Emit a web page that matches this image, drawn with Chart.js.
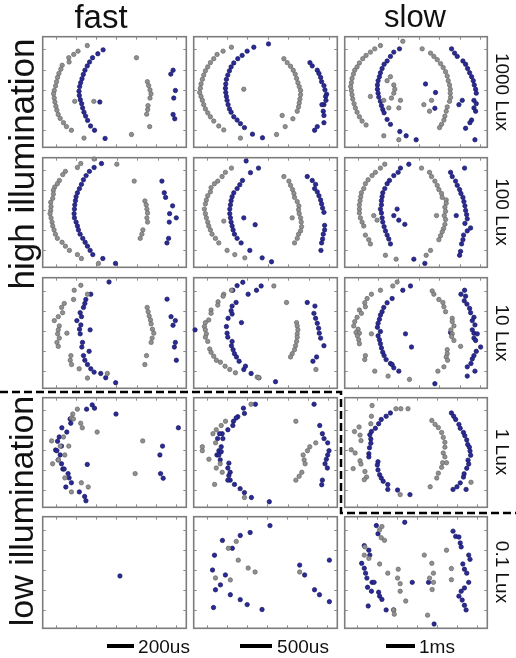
<!DOCTYPE html>
<html>
<head>
<meta charset="utf-8">
<script src="https://cdn.jsdelivr.net/npm/chart.js@4.4.0/dist/chart.umd.min.js"></script>
<style>
  body { margin: 0; background: #fff; }
  #fig { position: relative; width: 516px; height: 658px; overflow: hidden; background: #fff;
         font-family: 'Liberation Sans', Arial, sans-serif; color: #111; }
  .panel { position: absolute; }
  .lbl { position: absolute; white-space: nowrap; line-height: 1; transform: translate(-50%, -50%); }
  .up { transform: translate(-50%, -50%) rotate(-90deg); }
  .down { transform: translate(-50%, -50%) rotate(90deg); }
  .bar { position: absolute; background: #000; }
  #dash { position: absolute; left: 0; top: 0; }
</style>
</head>
<body>
<div id="fig">
  <canvas id="dash" width="516" height="658"></canvas>
</div>
<script>
// Texte der Abbildung
const rowLabels = ['1000 Lux', '100 Lux', '10 Lux', '1 Lux', '0.1 Lux'];
const columnTitles = ['fast', '', 'slow'];
const groupLabels = ['high illumination', 'low illumination'];
const scaleBarLabels = ['200us', '500us', '1ms'];

// Punkte je Feld, abgelesen in Bildpunkten der Ausschnitte: [x, y]
// Achsenbereiche je Feld: [xMin, xMax, yMin, yMax]

// 1000 Lux
const grey1000Fast = [[138,45],[110,62],[97,72],[82,82],[83,95],[62,105],[58,117],[52,130],[48,142],[45,155],[42,168],[38,182],[36,192],[38,205],[40,217],[43,230],[46,242],[50,255],[56,267],[66,280],[75,292],[90,303],[100,215],[158,215],[128,327],[287,82],[272,316],[320,155],[324,167],[328,180],[331,192],[328,205],[322,228],[321,240],[318,254],[327,292]];
const blue1000Fast = [[186,58],[170,70],[154,82],[145,95],[138,107],[131,120],[126,133],[122,146],[118,158],[115,170],[113,184],[114,197],[117,210],[121,222],[124,235],[128,248],[133,260],[139,273],[148,290],[160,303],[192,328],[176,217],[398,120],[391,132],[405,182],[400,205],[398,255],[403,268]];
const range1000Fast = [3, 438, 18, 355];

const grey1000Mid = [[123,50],[98,62],[80,72],[70,85],[60,97],[52,110],[45,122],[40,135],[36,148],[32,162],[30,175],[28,188],[32,200],[36,212],[40,225],[45,238],[52,250],[60,262],[70,275],[85,290],[100,302],[160,178],[150,327],[258,316],[284,292],[275,258],[307,268],[280,85],[290,97],[300,108],[308,120],[314,132],[318,145],[322,158],[326,170],[330,182],[330,195],[328,208],[326,220],[324,232],[320,245]];
const blue1000Mid = [[234,40],[190,50],[170,62],[155,75],[142,85],[130,98],[122,110],[117,122],[112,135],[108,148],[106,162],[105,175],[106,188],[108,200],[110,212],[113,225],[117,238],[122,248],[130,262],[140,272],[150,283],[162,295],[186,315],[216,326],[358,97],[365,107],[380,120],[385,130],[390,142],[393,155],[400,167],[403,180],[408,193],[405,200],[406,212],[400,225],[394,225],[398,245],[400,258],[400,280],[380,292],[372,303]];
const range1000Mid = [10, 440, 18, 355];

const grey1000Slow = [[192,32],[125,45],[108,55],[95,65],[82,75],[72,85],[62,98],[55,110],[48,120],[44,132],[40,145],[38,158],[36,170],[38,182],[40,195],[42,208],[46,222],[50,235],[55,248],[62,262],[70,275],[82,287],[155,140],[145,152],[165,165],[168,178],[165,190],[158,205],[95,200],[135,212],[185,212],[150,235],[180,235],[135,320],[180,332],[255,225],[278,212],[272,245],[250,55],[275,68],[285,78],[295,88],[305,100],[313,112],[320,125],[325,138],[328,152],[332,165],[334,178],[334,190],[335,203],[332,215],[325,232],[322,245],[318,260],[315,272],[308,285],[302,295]];
const blue1000Slow = [[182,55],[165,65],[155,78],[145,92],[136,102],[130,115],[125,128],[122,140],[118,152],[116,165],[116,178],[118,190],[120,202],[125,215],[128,228],[132,240],[136,250],[145,270],[155,285],[183,307],[202,320],[232,332],[260,162],[290,188],[288,236],[338,55],[347,68],[355,78],[372,92],[380,102],[386,115],[392,128],[398,140],[403,152],[406,165],[410,178],[412,190],[405,212],[412,222],[370,212],[360,225],[405,235],[410,245],[398,272],[393,280],[380,297],[408,332]];
const range1000Slow = [18, 445, 18, 355];

// 100 Lux
const grey100Fast = [[162,24],[122,38],[112,50],[76,62],[68,72],[58,90],[52,100],[44,110],[40,120],[40,132],[38,145],[32,157],[33,170],[32,182],[30,192],[33,205],[36,218],[38,230],[42,242],[46,255],[52,268],[66,280],[76,292],[88,305],[112,318],[124,330],[175,345],[230,40],[282,92],[314,153],[318,165],[320,178],[322,190],[320,205],[322,218],[308,242],[305,255],[300,268]];
const blue100Fast = [[184,38],[162,50],[148,62],[138,75],[130,88],[124,102],[118,115],[112,128],[108,140],[106,152],[104,165],[103,178],[102,192],[103,205],[108,218],[112,230],[115,242],[120,255],[128,268],[135,280],[142,292],[150,305],[158,318],[188,330],[226,345],[365,92],[372,128],[376,142],[397,168],[388,192],[408,205],[387,218],[385,268],[380,282]];
const range100Fast = [8, 438, 20, 357];

const grey100Mid = [[123,52],[105,65],[95,78],[82,92],[72,100],[62,112],[60,125],[52,137],[48,150],[45,162],[42,178],[45,192],[48,205],[52,218],[55,230],[60,242],[65,255],[75,268],[85,282],[100,215],[110,305],[133,318],[163,328],[280,78],[295,92],[300,105],[306,118],[310,130],[312,142],[320,155],[325,168],[324,180],[326,192],[330,205],[332,218],[333,232],[330,245],[324,255],[320,268],[312,282],[305,205]];
const blue100Mid = [[167,30],[180,66],[204,52],[156,90],[148,103],[140,115],[130,128],[125,140],[122,152],[120,165],[118,178],[118,192],[120,205],[122,218],[125,230],[128,242],[132,255],[140,268],[152,282],[178,305],[160,205],[194,226],[215,328],[243,340],[350,78],[365,90],[375,102],[372,115],[380,125],[385,137],[390,150],[393,162],[396,175],[400,188],[402,228],[402,242],[398,255],[396,270],[393,282],[391,305]];
const range100Mid = [10, 440, 20, 357];

const grey100Slow = [[138,40],[125,52],[110,65],[100,75],[88,88],[80,100],[75,115],[68,128],[66,140],[64,152],[62,165],[62,178],[62,190],[65,205],[70,218],[75,230],[80,258],[90,272],[95,285],[105,198],[115,212],[140,320],[172,332],[248,52],[272,65],[278,78],[288,92],[295,105],[300,118],[308,130],[310,142],[322,150],[322,160],[318,172],[320,185],[316,198],[320,210],[318,225],[314,238],[310,248],[305,260],[300,272],[293,198],[275,305],[262,320]];
const blue100Slow = [[210,40],[185,52],[178,65],[165,75],[152,90],[145,100],[138,115],[132,128],[130,140],[128,152],[128,165],[125,178],[128,190],[130,205],[132,218],[136,232],[140,245],[145,258],[150,270],[155,285],[175,178],[165,198],[180,212],[198,225],[225,332],[258,345],[377,52],[335,65],[340,78],[350,92],[355,105],[362,118],[366,130],[372,142],[375,155],[378,168],[380,182],[383,195],[385,208],[378,222],[395,236],[385,245],[374,258],[372,272],[368,285],[365,308],[362,320],[352,198]];
const range100Slow = [18, 445, 20, 357];

// 10 Lux
const grey10Fast = [[120,45],[100,60],[140,72],[98,88],[70,100],[62,112],[65,128],[52,140],[40,152],[55,168],[52,180],[50,192],[78,190],[55,205],[48,218],[52,230],[90,258],[88,272],[92,285],[115,298],[140,326],[200,312],[320,112],[323,125],[326,138],[330,150],[332,162],[336,178],[340,190],[335,205],[332,218],[318,258],[313,285]];
const blue10Fast = [[205,35],[150,72],[135,88],[132,100],[128,112],[118,128],[122,140],[108,152],[120,165],[116,178],[118,192],[148,180],[125,218],[123,232],[128,258],[145,245],[132,272],[140,285],[150,298],[160,308],[180,312],[195,325],[225,340],[380,87],[392,140],[405,152],[398,166],[405,218],[402,232],[408,272]];
const range10Fast = [5, 438, 22, 357];

const grey10Mid = [[123,60],[100,72],[98,78],[83,95],[82,105],[62,120],[62,130],[55,150],[45,158],[42,170],[45,180],[48,192],[45,202],[52,215],[58,238],[62,248],[70,260],[78,272],[90,278],[104,290],[118,300],[135,310],[200,323],[205,325],[250,47],[288,97],[318,158],[320,168],[322,180],[320,192],[320,202],[318,215],[315,228],[312,240],[305,252],[300,262],[376,300]];
const blue10Mid = [[157,36],[140,46],[127,60],[212,47],[198,60],[173,72],[137,97],[125,108],[122,122],[125,132],[113,145],[153,158],[108,170],[110,190],[112,202],[125,215],[123,228],[128,240],[132,252],[138,262],[146,275],[160,300],[165,290],[182,312],[205,325],[255,337],[14,180],[350,97],[373,108],[370,130],[375,145],[380,160],[384,175],[386,190],[390,205],[400,228],[378,262],[367,275]];
const range10Mid = [10, 440, 22, 357];

const grey10Slow = [[175,35],[162,47],[125,60],[98,72],[85,85],[78,98],[80,110],[62,120],[68,130],[55,142],[48,155],[45,168],[58,178],[52,188],[62,190],[56,198],[60,210],[62,222],[98,192],[80,258],[78,270],[108,305],[148,320],[212,330],[280,62],[285,72],[300,88],[312,97],[315,110],[320,125],[340,145],[340,155],[345,168],[336,180],[340,192],[338,200],[345,212],[365,230],[325,240],[325,252],[322,262],[326,272],[315,292],[297,305]];
const blue10Slow = [[215,47],[192,60],[160,85],[145,98],[135,112],[130,125],[125,135],[122,148],[118,160],[116,172],[125,185],[118,198],[122,210],[125,222],[128,235],[132,248],[136,258],[142,270],[155,282],[160,285],[165,295],[180,305],[200,192],[218,232],[288,343],[377,60],[366,72],[380,78],[376,92],[384,102],[392,115],[395,128],[405,142],[400,152],[408,165],[400,180],[405,190],[415,192],[405,205],[410,212],[425,232],[412,245],[405,258],[400,268],[396,282],[385,292],[408,305],[385,320],[335,188]];
const range10Slow = [18, 445, 22, 357];

// 1 Lux
const grey1Fast = [[110,55],[96,70],[92,82],[98,85],[120,98],[125,112],[170,125],[68,140],[32,152],[84,168],[58,168],[72,195],[52,210],[35,222],[72,265],[122,280],[92,308],[143,293],[308,152],[285,252]];
const blue1Fast = [[155,42],[138,55],[162,52],[88,85],[90,98],[63,112],[78,125],[55,140],[50,153],[62,168],[44,180],[48,182],[58,195],[52,210],[62,222],[66,238],[70,238],[82,252],[85,265],[92,280],[75,293],[116,308],[132,322],[136,335],[140,224],[227,70],[416,112],[368,168],[360,195],[362,252],[370,266]];
const range1Fast = [5, 440, 20, 355];

const grey1Mid = [[185,40],[108,92],[95,105],[80,118],[70,130],[78,158],[38,170],[38,182],[58,208],[92,222],[80,235],[98,248],[75,285],[165,325],[320,92],[380,158],[362,170],[355,182],[342,195],[345,210],[348,222],[338,248],[330,260],[320,272]];
const blue1Mid = [[198,40],[162,52],[165,68],[145,78],[140,82],[132,92],[130,105],[115,118],[98,130],[90,130],[84,145],[100,145],[95,170],[88,182],[95,185],[82,195],[88,195],[92,210],[118,220],[115,235],[122,248],[118,258],[122,272],[115,272],[135,285],[152,298],[165,310],[186,325],[240,338],[375,40],[392,105],[400,130],[405,145],[416,158],[420,182],[416,195],[412,208],[408,222],[415,235],[400,272],[398,286]];
const range1Mid = [12, 445, 20, 355];

const grey1Slow = [[102,42],[100,75],[98,98],[62,108],[48,122],[65,133],[68,150],[38,178],[50,188],[65,212],[68,222],[44,236],[80,245],[85,262],[78,270],[175,52],[190,52],[212,52],[285,88],[295,100],[305,110],[315,125],[320,140],[325,155],[325,170],[320,188],[325,200],[318,218],[330,218],[315,232],[305,250],[300,265],[280,292],[188,316],[405,278]];
const blue1Slow = [[158,65],[145,75],[130,85],[122,98],[112,112],[100,122],[95,132],[98,145],[98,158],[94,172],[92,190],[92,200],[120,215],[118,225],[120,240],[125,255],[130,265],[136,275],[150,285],[150,300],[180,302],[218,316],[345,65],[352,75],[358,85],[368,100],[372,112],[382,125],[386,135],[392,148],[395,162],[400,170],[402,182],[404,195],[396,210],[398,222],[392,235],[384,252],[382,262],[372,280],[362,292],[350,300],[390,300]];
const range1Slow = [18, 455, 18, 355];

// 0.1 Lux
const grey01Fast = [];
const blue01Fast = [[240,198]];
const range01Fast = [6, 441, 18, 357];

const grey01Mid = [[138,93],[114,114],[144,150],[174,174],[75,204],[120,210],[195,186],[330,186]];
const blue01Mid = [[240,45],[180,66],[150,75],[96,90],[126,114],[72,135],[66,180],[105,195],[90,225],[75,240],[120,255],[150,270],[171,285],[69,294],[216,300],[345,195],[420,150],[375,240],[420,276],[390,255],[330,165]];
const range01Mid = [9, 444, 18, 357];

const grey01Slow = [[132,408],[125,418],[130,442],[140,450],[80,470],[78,495],[92,505],[125,522],[150,550],[182,538],[180,565],[188,582],[188,605],[205,635],[168,662],[170,675],[272,678],[262,495],[285,520],[290,550],[278,565],[290,578],[286,600],[330,480],[345,536],[345,570]];
const blue01Slow = [[202,395],[115,405],[120,430],[78,466],[92,480],[95,495],[70,520],[78,535],[82,550],[86,565],[102,578],[108,578],[88,593],[100,605],[122,608],[125,620],[132,630],[90,650],[145,662],[168,662],[225,578],[292,705],[275,578],[350,422],[358,438],[368,440],[372,458],[375,470],[398,495],[402,508],[380,522],[385,538],[392,550],[398,578],[385,595],[375,605],[368,620],[378,632],[385,648],[390,662]];
const range01Slow = [18, 455, 378, 718];

// Zusammenstellung: Zeilen = Beleuchtung, Spalten = fast / mittel / slow
const panelGrid = [
    [[grey1000Fast, blue1000Fast, range1000Fast], [grey1000Mid, blue1000Mid, range1000Mid], [grey1000Slow, blue1000Slow, range1000Slow]],
    [[grey100Fast, blue100Fast, range100Fast], [grey100Mid, blue100Mid, range100Mid], [grey100Slow, blue100Slow, range100Slow]],
    [[grey10Fast, blue10Fast, range10Fast], [grey10Mid, blue10Mid, range10Mid], [grey10Slow, blue10Slow, range10Slow]],
    [[grey1Fast, blue1Fast, range1Fast], [grey1Mid, blue1Mid, range1Mid], [grey1Slow, blue1Slow, range1Slow]],
    [[grey01Fast, blue01Fast, range01Fast], [grey01Mid, blue01Mid, range01Mid], [grey01Slow, blue01Slow, range01Slow]]
];

// Lage der Felder auf der Seite
const colLeft = [42, 193, 344];
const colWidth = [145, 145, 144];
const rowTop = [36, 157, 277, 397, 516];
const rowHeight = [112, 111, 112, 111, 113];
const PAD = 4;

// Rahmen mit nach innen zeigenden Teilstrichen
const framePlugin = {
    id: 'frame',
    beforeDatasetsDraw(chart) {
        const { ctx, chartArea: a, scales: { x, y } } = chart;
        ctx.save();
        ctx.strokeStyle = '#7d7d7d';
        ctx.lineWidth = 1.6;
        ctx.strokeRect(a.left, a.top, a.right - a.left, a.bottom - a.top);
        ctx.lineWidth = 1;
        ctx.strokeStyle = '#8a8a8a';
        ctx.beginPath();
        for (let v = x.min + 39; v < x.max - 12; v += 61) {
            const px = Math.round(x.getPixelForValue(v)) + 0.5;
            ctx.moveTo(px, a.bottom); ctx.lineTo(px, a.bottom - 3);
            ctx.moveTo(px, a.top); ctx.lineTo(px, a.top + 3);
        }
        for (let v = y.min + 39; v < y.max - 12; v += 61) {
            const py = Math.round(y.getPixelForValue(v)) + 0.5;
            ctx.moveTo(a.left, py); ctx.lineTo(a.left + 3, py);
            ctx.moveTo(a.right, py); ctx.lineTo(a.right - 3, py);
        }
        ctx.stroke();
        ctx.restore();
    }
};

function toXY(list) {
    return list.map(p => ({ x: p[0], y: p[1] }));
}

function makePanel(r, c) {
    const [grey, blue, range] = panelGrid[r][c];
    const fig = document.getElementById('fig');
    const canvas = document.createElement('canvas');
    canvas.className = 'panel';
    canvas.width = colWidth[c] + 2 * PAD;
    canvas.height = rowHeight[r] + 2 * PAD;
    canvas.style.left = (colLeft[c] - PAD) + 'px';
    canvas.style.top = (rowTop[r] - PAD) + 'px';
    fig.appendChild(canvas);

    new Chart(canvas, {
        type: 'scatter',
        data: {
            datasets: [
                { data: toXY(grey), backgroundColor: '#909090', borderColor: '#666666', borderWidth: 0.7, pointRadius: 2.2, clip: false },
                { data: toXY(blue), backgroundColor: '#2a2a98', borderColor: '#18185e', borderWidth: 0.7, pointRadius: 2.2, clip: false }
            ]
        },
        options: {
            responsive: false,
            animation: false,
            events: [],
            layout: { padding: PAD },
            plugins: { legend: { display: false }, tooltip: { enabled: false } },
            scales: {
                x: { type: 'linear', display: false, min: range[0], max: range[1] },
                y: { type: 'linear', display: false, min: range[2], max: range[3], reverse: true }
            }
        },
        plugins: [framePlugin]
    });
}

function addLabel(text, x, y, size, cls) {
    const el = document.createElement('div');
    el.className = 'lbl' + (cls ? ' ' + cls : '');
    el.textContent = text;
    el.style.left = x + 'px';
    el.style.top = y + 'px';
    el.style.fontSize = size + 'px';
    document.getElementById('fig').appendChild(el);
}

function addBar(x, y, w, h) {
    const el = document.createElement('div');
    el.className = 'bar';
    el.style.left = x + 'px'; el.style.top = y + 'px';
    el.style.width = w + 'px'; el.style.height = h + 'px';
    document.getElementById('fig').appendChild(el);
}

function drawDashes() {
    const ctx = document.getElementById('dash').getContext('2d');
    ctx.strokeStyle = '#000';
    ctx.lineWidth = 2.5;
    ctx.setLineDash([8, 4]);
    ctx.beginPath();
    ctx.moveTo(0, 392); ctx.lineTo(341, 392);
    ctx.lineTo(341, 513); ctx.lineTo(516, 513);
    ctx.stroke();
}

for (let r = 0; r < panelGrid.length; r++) {
    for (let c = 0; c < 3; c++) makePanel(r, c);
}

drawDashes();

// Spaltentitel
addLabel(columnTitles[0], 101, 16, 33);
addLabel(columnTitles[2], 415, 16, 31);

// Gruppen links
addLabel(groupLabels[0], 21, 164, 35, 'up');
addLabel(groupLabels[1], 21, 511, 34, 'up');

// Beleuchtung rechts
const rowCenter = [92, 212, 333, 452, 572];
rowLabels.forEach((t, i) => addLabel(t, 502, rowCenter[i], 19, 'down'));

// Maßstabsbalken
addBar(107, 644, 27, 4);
addLabel(scaleBarLabels[0], 164, 646, 19);
addBar(240, 644, 32, 4);
addLabel(scaleBarLabels[1], 303, 646, 19);
addBar(386, 644, 29, 4);
addLabel(scaleBarLabels[2], 437, 646, 19);
</script>
</body>
</html>
